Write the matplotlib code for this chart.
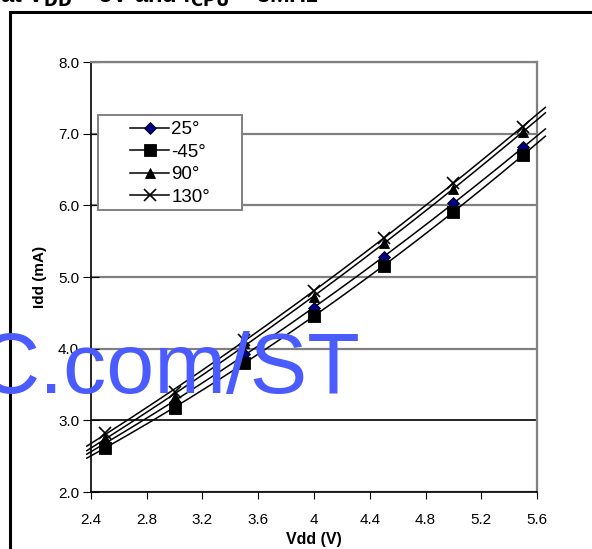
import numpy as np
import matplotlib
matplotlib.use('Agg')
import matplotlib.pyplot as plt

plt.rcParams['font.family'] = ['Liberation Sans', 'DejaVu Sans']

# measured supply current vs supply voltage
vdd = [2.5, 3.0, 3.5, 4.0, 4.5, 5.0, 5.5]
idd_25 = [2.68, 3.26, 3.93, 4.57, 5.28, 6.03, 6.81]
idd_m45 = [2.62, 3.17, 3.80, 4.46, 5.16, 5.91, 6.70]
idd_90 = [2.75, 3.33, 4.08, 4.72, 5.47, 6.23, 7.03]
idd_130 = [2.82, 3.40, 4.12, 4.81, 5.55, 6.31, 7.10]

labels = ['25°', '-45°', '90°', '130°']
series = [idd_25, idd_m45, idd_90, idd_130]
markers = ['D', 's', '^', 'x']
mfaces = ['#000080', 'black', 'black', 'black']
msizes = [6, 8, 7, 8]

x_ticks = [2.4, 2.8, 3.2, 3.6, 4, 4.4, 4.8, 5.2, 5.6]
x_ticklabels = ['2.4', '2.8', '3.2', '3.6', '4', '4.4', '4.8', '5.2', '5.6']
y_ticks = [2.0, 3.0, 4.0, 5.0, 6.0, 7.0, 8.0]

fig = plt.figure(figsize=(5.92, 5.49), dpi=100)
ax = fig.add_axes([0.1537, 0.1038, 0.7534, 0.7832])

# outer frame of the chart (right edge runs off the picture)
frame = plt.Rectangle((10/592, -0.05), 1.0, 1 - 12/549 + 0.05, transform=fig.transFigure,
                      fill=False, ec='black', lw=2.2, zorder=0)
fig.patches.append(frame)

fig.text(0.0, 1 - 3/549, 'at V$_{\\mathbf{DD}}$ = 5V and f$_{\\mathbf{CPU}}$ = 8MHz',
         fontsize=17, fontweight='bold', ha='left', va='baseline')

xs = np.linspace(2.37, 5.66, 200)
handles = []
for y, lab, m, fc, ms in zip(series, labels, markers, mfaces, msizes):
    # polynomial trendline drawn through the full axis width
    c = np.polyfit(vdd, y, 2)
    ax.plot(xs, np.polyval(c, xs), color='black', lw=1.1, clip_on=False, zorder=3)
    ax.plot(vdd, y, ls='none', marker=m, ms=ms, mfc=fc, mec='black', mew=1.2 if m == 'x' else 0.6,
            zorder=4)
    h, = ax.plot([], [], color='black', lw=1.1, marker=m, ms=ms, mfc=fc, mec='black',
                 mew=1.2 if m == 'x' else 0.6, label=lab)
    handles.append(h)

ax.set_xlim(2.4, 5.6)
ax.set_ylim(2.0, 8.0)
ax.set_xticks(x_ticks)
ax.set_xticklabels(x_ticklabels)
ax.set_yticks(y_ticks)
ax.set_yticklabels(['%.1f' % v for v in y_ticks])
ax.tick_params(axis='x', direction='out', length=5, labelsize=11, pad=10, color='black')
ax.tick_params(axis='y', direction='inout', length=11, labelsize=11, pad=3, color='black')

ax.grid(axis='y', color='#808080', lw=1.6)
for gl, v in zip(ax.get_ygridlines(), y_ticks):
    if v == 3.0:
        gl.set_color('black')
        gl.set_linewidth(1.2)
ax.set_axisbelow(True)

for s in ['top', 'right']:
    ax.spines[s].set_color('#808080')
    ax.spines[s].set_linewidth(1.6)
for s in ['left', 'bottom']:
    ax.spines[s].set_color('black')
    ax.spines[s].set_linewidth(1.2)

ax.set_xlabel('Vdd (V)', fontsize=11.5, fontweight='bold', labelpad=4)
ax.set_ylabel('Idd (mA)', fontsize=11, fontweight='bold', labelpad=8)

# legend box drawn separately, Excel style with wide left margin
box = plt.Rectangle((0.0157, 0.656), 0.323, 0.221, transform=ax.transAxes,
                    fc='white', ec='#808080', lw=1.4, zorder=5)
ax.add_patch(box)
leg = ax.legend(handles=handles, loc='upper left', bbox_to_anchor=(0.0874, 0.862),
                frameon=False, fontsize=13.5, handlelength=2.1,
                handletextpad=0.1, labelspacing=0.28, borderpad=0,
                borderaxespad=0)
leg.set_zorder(6)

# watermark text across the plot
fig.text(-22/592, 1 - 393/549, 'C.com/ST', color='#4a5bff', fontsize=62,
         ha='left', va='baseline', zorder=10)

fig.savefig('out.png', dpi=100)
